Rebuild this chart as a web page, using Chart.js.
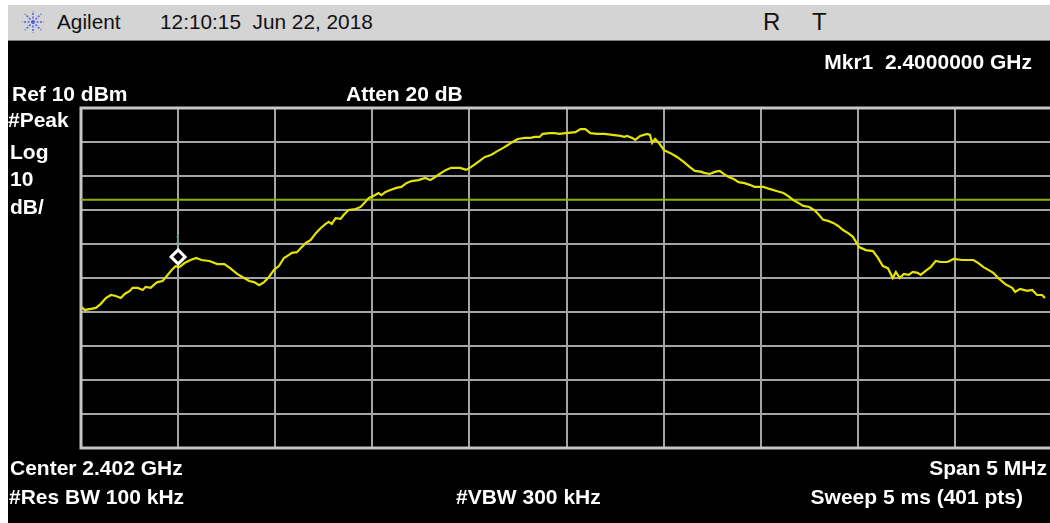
<!DOCTYPE html>
<html>
<head>
<meta charset="utf-8">
<script src="https://cdn.jsdelivr.net/npm/chart.js@4.4.0/dist/chart.umd.min.js"></script>
<style>
  body { margin: 0; width: 1050px; height: 523px; overflow: hidden; background: #fff; position: relative;
         font-family: "Liberation Sans", Arial, sans-serif; }
  #bar { position: absolute; left: 8px; top: 5px; width: 1042px; height: 35px; background: #d4d4d4;
         border-bottom: 1px solid #7c7c7c; }
  #screen { position: absolute; left: 8px; top: 41px; width: 1042px; height: 482px; background: #000; }
  #wrap { position: absolute; left: 0; top: 0; width: 1062px; height: 523px; }
  .t { position: absolute; white-space: nowrap; line-height: 1; }
  .w { color: #fff; font-weight: bold; font-size: 21px; }
  .h { color: #111; font-size: 20.8px; }
</style>
</head>
<body>
<div id="bar"></div>
<div id="screen"></div>

<svg class="t" style="left:20px;top:10px" width="26" height="24" viewBox="0 0 26 24">
  <g stroke="#5262e0" stroke-width="1.6" stroke-dasharray="2 1.5">
    <line x1="13" y1="12" x2="13" y2="1"/><line x1="13" y1="12" x2="13" y2="23"/>
    <line x1="13" y1="12" x2="2" y2="12"/><line x1="13" y1="12" x2="24" y2="12"/>
    <line x1="13" y1="12" x2="5" y2="4"/><line x1="13" y1="12" x2="21" y2="4"/>
    <line x1="13" y1="12" x2="5" y2="20"/><line x1="13" y1="12" x2="21" y2="20"/>
  </g>
</svg>
<div class="t h" style="left:57px;top:12px">Agilent</div>
<div class="t h" style="left:160px;top:12px">12:10:15&nbsp; Jun 22, 2018</div>
<div class="t h" style="left:763px;top:10px;font-size:24px">R</div>
<div class="t h" style="left:812px;top:10px;font-size:24px">T</div>

<div id="wrap"><canvas id="plot"></canvas></div>

<div class="t w" style="right:18px;top:51px">Mkr1&nbsp; 2.4000000 GHz</div>
<div class="t w" style="left:12px;top:83px">Ref 10 dBm</div>
<div class="t w" style="left:346px;top:83px">Atten 20 dB</div>
<div class="t w" style="left:8px;top:109px">#Peak</div>
<div class="t w" style="left:10px;top:141px">Log</div>
<div class="t w" style="left:10px;top:168px">10</div>
<div class="t w" style="left:10px;top:196px">dB/</div>
<div class="t w" style="left:10px;top:457px">Center 2.402 GHz</div>
<div class="t w" style="right:3px;top:457px">Span 5 MHz</div>
<div class="t w" style="left:9px;top:486px">#Res BW 100 kHz</div>
<div class="t w" style="left:456px;top:486px">#VBW 300 kHz</div>
<div class="t w" style="right:27px;top:486px">Sweep 5 ms (401 pts)</div>

<script>
// sweep settings
const startMHz = 2399.5;
const stopMHz = 2404.5;
const refLevel = 10;
const bottomLevel = -90;
const displayLine = -17.0;
const markerMHz = 2400.0;
const markerLevel = -33.8;

// peak trace, frequency in MHz and level in dBm
const freqMHz = [
  2399.500, 2399.519, 2399.551, 2399.577, 2399.602, 2399.628, 2399.654, 2399.679, 2399.705, 2399.725,
  2399.751, 2399.766, 2399.792, 2399.818, 2399.833, 2399.859, 2399.879, 2399.894, 2399.920, 2399.946,
  2399.971, 2399.987, 2400.007, 2400.033, 2400.064, 2400.094, 2400.120, 2400.161, 2400.202, 2400.238,
  2400.268, 2400.304, 2400.340, 2400.366, 2400.391, 2400.417, 2400.443, 2400.468, 2400.494, 2400.519,
  2400.545, 2400.571,
  2400.586, 2400.612, 2400.632, 2400.658, 2400.683, 2400.709, 2400.735, 2400.760, 2400.776, 2400.791,
  2400.811, 2400.837, 2400.852, 2400.878, 2400.914, 2400.940, 2400.960, 2400.981, 2401.006, 2401.032,
  2401.047, 2401.068, 2401.093, 2401.124, 2401.150, 2401.175, 2401.201, 2401.237, 2401.273, 2401.298,
  2401.324, 2401.355, 2401.380, 2401.406, 2401.452, 2401.483, 2401.508, 2401.544, 2401.580, 2401.611,
  2401.646, 2401.672, 2401.698, 2401.713, 2401.749, 2401.785, 2401.816, 2401.836, 2401.862, 2401.877,
  2401.913, 2401.939, 2401.964, 2401.995, 2402.046, 2402.072, 2402.097, 2402.123, 2402.159, 2402.195,
  2402.236, 2402.277, 2402.297, 2402.313, 2402.338, 2402.354, 2402.379, 2402.415, 2402.430, 2402.441,
  2402.456, 2402.476, 2402.502, 2402.533, 2402.569, 2402.605, 2402.635, 2402.661, 2402.697,
  2402.707, 2402.738, 2402.763, 2402.789, 2402.809, 2402.835, 2402.861, 2402.886, 2402.917, 2402.943,
  2402.968, 2403.014, 2403.045, 2403.081, 2403.117, 2403.142, 2403.168, 2403.194, 2403.219, 2403.250,
  2403.276, 2403.296, 2403.322, 2403.347, 2403.373, 2403.399, 2403.424, 2403.450, 2403.475, 2403.491,
  2403.506, 2403.542, 2403.578,
  2403.604, 2403.629, 2403.655, 2403.680, 2403.696, 2403.716, 2403.737, 2403.762, 2403.783, 2403.808,
  2403.824, 2403.849, 2403.875, 2403.901, 2403.926, 2403.962, 2403.993, 2404.039, 2404.095, 2404.121,
  2404.147, 2404.172, 2404.198, 2404.223, 2404.259, 2404.295, 2404.310, 2404.336, 2404.372, 2404.398,
  2404.423, 2404.449, 2404.464
];
const levelDbm = [
  -48.4, -49.4, -49.1, -48.8, -47.6, -45.9, -45.0, -45.3, -45.9, -44.7,
  -43.8, -42.9, -42.9, -43.5, -42.6, -42.9, -41.8, -41.2, -40.9, -39.1,
  -37.4, -36.5, -36.8, -35.6, -34.7, -34.1, -34.7, -35.0, -35.9, -35.9,
  -37.1, -38.8, -40.0, -40.9, -41.2, -42.1, -41.2, -39.7, -37.6, -36.5,
  -34.1, -33.2,
  -32.6, -32.4, -31.2, -29.7, -28.8, -26.8, -25.3, -24.1, -23.5, -24.1,
  -22.4, -22.6, -21.5, -20.0, -19.7, -19.1, -17.9, -16.5, -15.9, -15.0,
  -15.6, -14.7, -14.1, -13.5, -13.2, -12.1, -11.5, -11.2, -10.6, -11.2,
  -10.3, -9.1, -8.2, -7.6, -7.6, -8.2, -7.4, -5.9, -4.4, -3.8,
  -2.6, -1.8, -0.9, -0.3, 0.9, 1.2, 1.2, 1.5, 1.5, 2.4,
  2.6, 2.6, 2.4, 2.6, 2.9, 3.8, 3.8, 2.6, 2.4, 2.4,
  2.1, 1.8, 1.5, 1.8, 1.2, 0.6, 1.8, 2.4, 2.1, -0.3,
  0.9, -0.3, -2.4, -3.2, -4.4, -5.9, -7.4, -8.5, -8.8,
  -9.1, -9.4, -8.8, -8.5, -9.4, -10.3, -10.9, -11.8, -12.1, -12.6,
  -13.2, -13.2, -13.8, -14.4, -15.0, -15.9, -17.1, -17.9, -18.8, -19.1,
  -20.0, -21.2, -22.9, -23.2, -23.8, -24.7, -25.9, -26.8, -27.9, -29.4,
  -30.9, -31.8, -32.1,
  -34.1, -36.5, -37.1, -40.0, -38.2, -40.0, -38.8, -39.1, -38.2, -38.5,
  -39.1, -37.9, -36.8, -35.0, -35.3, -35.3, -34.4, -34.7, -34.7, -35.6,
  -36.8, -37.6, -38.5, -40.0, -41.8, -42.9, -44.1, -43.2, -43.8, -43.5,
  -45.0, -45.0, -45.9
];

const trace = freqMHz.map((f, i) => ({ x: f, y: levelDbm[i] }));

// graticule box in canvas pixels (right edge runs past the window)
const box = { left: 81, top: 108, right: 1057, bottom: 448 };

// outer frame of the graticule plus the little marker number
const framePlugin = {
  id: 'frame',
  beforeDatasetsDraw(chart) {
    const a = chart.chartArea;
    const ctx = chart.ctx;
    ctx.save();
    ctx.strokeStyle = '#c6c6c6';
    ctx.lineWidth = 3;
    ctx.strokeRect(a.left, a.top, a.right - a.left, a.bottom - a.top);
    ctx.restore();
  },
  afterDatasetsDraw(chart) {
    const ctx = chart.ctx;
    const px = chart.scales.x.getPixelForValue(markerMHz);
    const py = chart.scales.y.getPixelForValue(markerLevel);
    ctx.save();
    ctx.fillStyle = '#4c8a6c';
    ctx.font = '10px "Liberation Sans"';
    ctx.textAlign = 'center';
    ctx.textBaseline = 'bottom';
    ctx.fillText('1', px, py - 12);
    ctx.restore();
  }
};

const gridOpts = { color: '#a4a4a4', lineWidth: 2, drawTicks: false };

new Chart(document.getElementById('plot'), {
  type: 'scatter',
  data: {
    datasets: [
      {
        data: [{ x: markerMHz, y: markerLevel }],
        pointStyle: 'rectRot',
        pointRadius: 7,
        borderWidth: 3,
        borderColor: '#ffffff',
        backgroundColor: '#000000',
        order: 0
      },
      {
        data: trace,
        showLine: true,
        borderColor: '#e4e400',
        borderWidth: 2.2,
        pointRadius: 0,
        tension: 0,
        order: 1
      },
      {
        data: [{ x: startMHz, y: displayLine }, { x: stopMHz, y: displayLine }],
        showLine: true,
        borderColor: '#8ab400',
        borderWidth: 2,
        pointRadius: 0,
        order: 2
      }
    ]
  },
  options: {
    responsive: true,
    maintainAspectRatio: false,
    animation: false,
    devicePixelRatio: 1,
    layout: {
      padding: (c) => ({
        left: box.left,
        top: box.top,
        right: c.chart.width - box.right,
        bottom: c.chart.height - box.bottom
      })
    },
    plugins: { legend: { display: false }, tooltip: { enabled: false } },
    scales: {
      x: {
        type: 'linear', min: startMHz, max: stopMHz,
        ticks: { display: false, stepSize: 0.5 },
        grid: gridOpts,
        border: { display: false },
        afterFit: (s) => { s.height = 0; }
      },
      y: {
        min: bottomLevel, max: refLevel,
        ticks: { display: false, stepSize: 10 },
        grid: gridOpts,
        border: { display: false },
        afterFit: (s) => { s.width = 0; }
      }
    }
  },
  plugins: [framePlugin]
});
</script>
</body>
</html>
